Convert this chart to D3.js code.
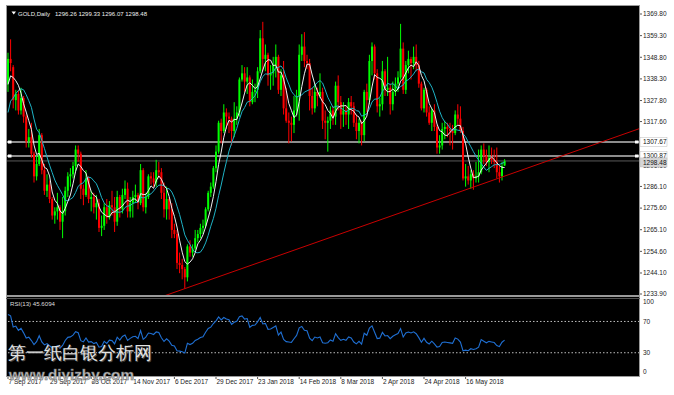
<!DOCTYPE html>
<html>
<head>
<meta charset="utf-8">
<script src="https://cdn.jsdelivr.net/npm/d3@7"></script>
<style>
  body { margin: 0; background: #fff; }
  svg { display: block; }
  text { font-family: "Liberation Sans", Arial, sans-serif; }
</style>
</head>
<body>
<svg id="chart-area"></svg>
<script>
// closes before the first visible bar (Jul-Aug 2017), only used to warm up the MAs and RSI
const priorCloses = [1213, 1219, 1219, 1218, 1228, 1234, 1241, 1241, 1245, 1254, 1255, 1249, 1250, 1260, 1268,
    1269, 1268, 1268, 1268, 1257, 1258, 1262, 1276, 1287, 1289, 1281, 1272, 1284, 1287, 1284,
    1292, 1285, 1289, 1286, 1291, 1313, 1309, 1308, 1321, 1325, 1332, 1339, 1334]

// daily bars, 7 Sep 2017 .. 6 Jun 2018
const opens = [1336, 1348, 1344, 1328, 1331, 1323, 1329, 1320, 1308, 1310, 1302, 1291, 1297, 1311, 1294, 1284, 1287, 1280, 1272, 1274,
    1276, 1269, 1274, 1284, 1291, 1292, 1296, 1304, 1302, 1285, 1282, 1290, 1280, 1281, 1276, 1278, 1266, 1267, 1276, 1271,
    1277, 1276, 1269, 1281, 1275, 1282, 1285, 1274, 1278, 1281, 1282, 1278, 1294, 1276, 1281, 1291, 1290, 1288, 1294, 1293,
    1283, 1275, 1280, 1275, 1265, 1263, 1249, 1248, 1246, 1242, 1257, 1254, 1256, 1261, 1263, 1266, 1267, 1275, 1283, 1286,
    1295, 1303, 1317, 1313, 1322, 1320, 1319, 1313, 1319, 1322, 1338, 1341, 1337, 1339, 1327, 1332, 1333, 1342, 1358, 1348,
    1350, 1340, 1341, 1345, 1349, 1333, 1340, 1324, 1318, 1317, 1316, 1323, 1330, 1350, 1354, 1347, 1346, 1330, 1324, 1332,
    1330, 1332, 1318, 1317, 1318, 1323, 1320, 1335, 1327, 1321, 1323, 1321, 1327, 1325, 1317, 1313, 1317, 1311, 1332, 1328,
    1347, 1354, 1341, 1325, 1326, 1342, 1333, 1334, 1326, 1332, 1336, 1339, 1353, 1333, 1345, 1348, 1346, 1349, 1345, 1336,
    1324, 1333, 1322, 1317, 1323, 1315, 1305, 1306, 1314, 1315, 1314, 1313, 1312, 1321, 1319, 1313, 1290, 1291, 1289, 1292,
    1290, 1291, 1293, 1304, 1301, 1298, 1300, 1299, 1298, 1293, 1291, 1296.26]
const highs = [1351, 1357.5, 1345, 1333, 1333, 1334, 1330, 1321, 1314, 1317, 1303, 1301, 1314, 1312, 1297, 1292, 1289, 1281, 1276, 1283,
    1277, 1281, 1286, 1293, 1295, 1298, 1306, 1306, 1303, 1287, 1294, 1291, 1284, 1283, 1282, 1280, 1272, 1278, 1280, 1279,
    1284, 1281, 1284, 1282, 1285, 1289, 1288, 1281, 1284, 1287, 1283, 1297, 1295, 1283, 1292, 1293, 1293, 1299, 1298, 1295,
    1288, 1286, 1281, 1278, 1268, 1265, 1254, 1251, 1247, 1258, 1260, 1258, 1265, 1265, 1268, 1270, 1276, 1284, 1288, 1296,
    1306, 1318, 1319, 1326, 1324, 1322, 1320, 1327, 1325, 1339, 1345, 1344, 1344, 1340, 1338, 1336, 1344, 1362, 1366, 1355,
    1351, 1345, 1349, 1355, 1350, 1343, 1347, 1334, 1322, 1320, 1330, 1333, 1355, 1360, 1361, 1350, 1348, 1334, 1336, 1334,
    1341, 1334, 1323, 1320, 1325, 1325, 1337, 1340, 1330, 1327, 1325, 1329, 1330, 1327, 1321, 1319, 1318, 1333, 1336, 1350,
    1356, 1355, 1343, 1329, 1347, 1343, 1349, 1336, 1337, 1339, 1342, 1365, 1356, 1347, 1352, 1349, 1354, 1355, 1347, 1337,
    1334, 1334, 1325, 1324, 1326, 1316, 1311, 1317, 1318, 1317, 1317, 1316, 1323, 1326, 1325, 1315, 1297, 1296, 1294, 1294,
    1298, 1304, 1306, 1307, 1304, 1306, 1305, 1304, 1305, 1296, 1298, 1299.33]
const lows = [1332, 1342, 1324, 1323, 1321, 1321, 1317, 1305, 1305, 1300, 1288, 1289, 1296, 1292, 1282, 1281, 1278, 1270, 1268, 1270,
    1265, 1261, 1272, 1281, 1286, 1290, 1293, 1298, 1280, 1277, 1281, 1278, 1274, 1273, 1270, 1264, 1262, 1265, 1268, 1270,
    1272, 1264, 1267, 1271, 1273, 1280, 1271, 1271, 1271, 1278, 1275, 1277, 1274, 1273, 1280, 1287, 1286, 1286, 1290, 1280,
    1271, 1270, 1270, 1261, 1261, 1246, 1244, 1241, 1236.5, 1240, 1252, 1252, 1255, 1259, 1261, 1263, 1266, 1274, 1281, 1285,
    1293, 1302, 1307, 1312, 1314, 1312, 1306, 1310, 1316, 1320, 1337, 1332, 1331, 1325, 1326, 1327, 1329, 1341, 1342, 1342,
    1335, 1333, 1335, 1339, 1331, 1330, 1321, 1317, 1307, 1308, 1312, 1320, 1318, 1347, 1344, 1343, 1323, 1321, 1322, 1325,
    1329, 1314, 1309, 1303, 1314, 1316, 1316, 1323, 1314, 1315, 1316, 1314, 1321, 1315, 1309, 1307, 1306, 1308, 1322, 1326,
    1340, 1338, 1322, 1320, 1323, 1330, 1330, 1321, 1323, 1330, 1332, 1338, 1331, 1331, 1341, 1338, 1343, 1342, 1334, 1323,
    1322, 1320, 1316, 1313, 1313, 1302, 1302, 1304, 1309, 1310, 1306, 1304, 1311, 1316, 1312, 1289, 1286, 1287, 1285, 1284.5,
    1288, 1288, 1292, 1297, 1296, 1293, 1297, 1295, 1290, 1288, 1289, 1296.07]
const closes = [1348, 1346, 1328, 1331, 1323, 1329, 1320, 1308, 1310, 1302, 1291, 1297, 1311, 1294, 1284, 1287, 1280, 1272, 1274, 1276,
    1269, 1274, 1284, 1291, 1292, 1296, 1304, 1302, 1285, 1282, 1290, 1280, 1281, 1276, 1278, 1266, 1267, 1276, 1271, 1277,
    1276, 1269, 1281, 1275, 1282, 1285, 1274, 1278, 1281, 1282, 1278, 1294, 1276, 1281, 1291, 1290, 1288, 1294, 1293, 1283,
    1275, 1280, 1275, 1265, 1263, 1249, 1248, 1246, 1242, 1257, 1254, 1256, 1261, 1263, 1266, 1267, 1275, 1283, 1286, 1295,
    1303, 1317, 1313, 1322, 1320, 1319, 1313, 1319, 1322, 1338, 1341, 1337, 1339, 1327, 1332, 1333, 1342, 1358, 1348, 1350,
    1340, 1341, 1345, 1349, 1333, 1340, 1324, 1318, 1317, 1316, 1323, 1330, 1350, 1354, 1347, 1346, 1330, 1324, 1332, 1330,
    1332, 1318, 1317, 1318, 1323, 1320, 1335, 1327, 1321, 1323, 1321, 1327, 1325, 1317, 1313, 1317, 1311, 1332, 1328, 1347,
    1354, 1341, 1325, 1326, 1342, 1333, 1334, 1326, 1332, 1336, 1339, 1353, 1333, 1345, 1348, 1346, 1349, 1345, 1336, 1324,
    1333, 1322, 1317, 1323, 1315, 1305, 1306, 1314, 1315, 1314, 1313, 1312, 1321, 1319, 1313, 1290, 1291, 1289, 1292, 1290,
    1291, 1293, 1304, 1301, 1298, 1300, 1299, 1298, 1293, 1291, 1296, 1298.48]

// one time label every 16 bars
const dateLabels = ["7 Sep 2017", "29 Sep 2017", "23 Oct 2017", "14 Nov 2017", "6 Dec 2017", "29 Dec 2017",
    "23 Jan 2018", "14 Feb 2018", "8 Mar 2018", "2 Apr 2018", "24 Apr 2018", "16 May 2018"]
const priceTicks = [1369.80, 1359.30, 1348.80, 1338.30, 1327.80, 1317.60, 1296.10, 1286.10, 1275.60, 1265.10, 1254.60, 1244.10, 1233.90]
const rsiTicks = [100, 70, 30, 0]
const rsiLevels = [70, 30]
const hLevels = [1307.67, 1300.87]
const bidPrice = 1298.48
// trend line through the December and May lows: [bar index, price]
const trendPoints = [[68, 1236.5], [179, 1285.8]]
const headerValues = ["1296.26", "1299.33", "1296.07", "1298.48"]
const rsiText = "RSI(13) 45.6094"

function drawChart() {
    const width = 674
    const height = 395
    const left = 6, right = 639, top = 5, mainBottom = 296, rsiTop = 298, rsiBottom = 376

    const svg = d3.select("#chart-area")
        .attr("width", width)
        .attr("height", height)

    svg.append("rect").attr("width", width).attr("height", height).attr("fill", "#fff")
    svg.append("rect")
        .attr("x", left).attr("y", top)
        .attr("width", right - left).attr("height", rsiBottom - top)
        .attr("fill", "#000")

    const defs = svg.append("defs")
    defs.append("clipPath").attr("id", "clip-main").append("rect")
        .attr("x", left + 1).attr("y", top + 1).attr("width", right - left - 1).attr("height", mainBottom - top - 1)
    defs.append("clipPath").attr("id", "clip-rsi").append("rect")
        .attr("x", left + 1).attr("y", rsiTop + 1).attr("width", right - left - 1).attr("height", rsiBottom - rsiTop - 1)

    const n = closes.length
    const x = d3.scaleLinear().domain([0, n - 1]).range([8, 8 + (n - 1) * 2.6])
    const y = d3.scaleLinear().domain([1233.9, 1369.8]).range([294, 14])
    const yRsi = d3.scaleLinear().domain([0, 100]).range([376.2, 298])

    // indicators on the full close history
    const all = priorCloses.concat(closes)
    const off = priorCloses.length
    function sma(p) {
        return all.map((c, j) => j < p - 1 ? null : d3.mean(all.slice(j - p + 1, j + 1)))
    }
    function rsi(p) {
        const out = all.map(() => null)
        let up = 0, dn = 0
        for (let j = 1; j < all.length; j++) {
            const ch = all[j] - all[j - 1]
            const g = Math.max(ch, 0), l = Math.max(-ch, 0)
            if (j <= p) {
                up += g / p; dn += l / p
            } else {
                up = (up * (p - 1) + g) / p
                dn = (dn * (p - 1) + l) / p
            }
            if (j >= p) out[j] = dn === 0 ? 100 : 100 - 100 / (1 + up / dn)
        }
        return out
    }
    const ma5 = sma(5).slice(off)
    const ma10 = sma(10).slice(off)
    const rsi13 = rsi(13).slice(off)

    const bars = d3.range(n).map(i => ({ i, o: opens[i], h: highs[i], l: lows[i], c: closes[i] }))
    const upColor = "#00ff00", downColor = "#ff0000"

    const main = svg.append("g").attr("clip-path", "url(#clip-main)")

    // horizontal levels and bid line
    main.append("line")
        .attr("x1", left).attr("x2", right)
        .attr("y1", y(bidPrice)).attr("y2", y(bidPrice))
        .attr("stroke", "#5a5a5a").attr("stroke-width", 1)
    main.selectAll(".level").data(hLevels).join("line")
        .attr("class", "level")
        .attr("x1", left).attr("x2", right)
        .attr("y1", d => y(d)).attr("y2", d => y(d))
        .attr("stroke", "#bdbdbd").attr("stroke-width", 1.6)
    main.selectAll(".handle").data(hLevels.flatMap(v => [[8, v], [635, v]])).join("rect")
        .attr("class", "handle")
        .attr("x", d => d[0]).attr("y", d => y(d[1]) - 1.5)
        .attr("width", 3.5).attr("height", 3)
        .attr("fill", "#fff")

    // candles
    main.selectAll(".wick").data(bars).join("line")
        .attr("class", "wick")
        .attr("x1", d => x(d.i)).attr("x2", d => x(d.i))
        .attr("y1", d => y(d.h)).attr("y2", d => y(d.l))
        .attr("stroke", d => d.c >= d.o ? upColor : downColor)
        .attr("stroke-width", 1)
    main.selectAll(".body").data(bars).join("rect")
        .attr("class", "body")
        .attr("x", d => x(d.i) - 1)
        .attr("width", 2)
        .attr("y", d => y(Math.max(d.o, d.c)))
        .attr("height", d => Math.max(1, Math.abs(y(d.o) - y(d.c))))
        .attr("fill", d => d.c >= d.o ? upColor : downColor)

    // moving averages
    const maLine = d3.line()
        .defined(d => d != null)
        .x((d, i) => x(i))
        .y(d => y(d))
    main.append("path").datum(ma10)
        .attr("d", maLine).attr("fill", "none")
        .attr("stroke", "#1fb3c6").attr("stroke-width", 1)
    main.append("path").datum(ma5)
        .attr("d", maLine).attr("fill", "none")
        .attr("stroke", "#f0f0f0").attr("stroke-width", 1)

    // trend line, extended both ways and clipped
    const slope = (trendPoints[1][1] - trendPoints[0][1]) / (trendPoints[1][0] - trendPoints[0][0])
    const tAt = i => trendPoints[0][1] + (i - trendPoints[0][0]) * slope
    main.append("line")
        .attr("x1", x(0)).attr("y1", y(tAt(0)))
        .attr("x2", x(260)).attr("y2", y(tAt(260)))
        .attr("stroke", "#c80000").attr("stroke-width", 1)

    // RSI panel
    const rsiG = svg.append("g").attr("clip-path", "url(#clip-rsi)")
    rsiG.selectAll(".rsi-level").data(rsiLevels).join("line")
        .attr("class", "rsi-level")
        .attr("x1", left + 2).attr("x2", right)
        .attr("y1", d => yRsi(d)).attr("y2", d => yRsi(d))
        .attr("stroke", "#bdbdbd").attr("stroke-width", 1)
        .attr("stroke-dasharray", "1.5,2")
    rsiG.append("path").datum(rsi13)
        .attr("d", d3.line().defined(d => d != null).x((d, i) => x(i)).y(d => yRsi(d)))
        .attr("fill", "none")
        .attr("stroke", "#1f6fd2").attr("stroke-width", 1.1)

    // frame
    const frame = "#9a9a9a"
    svg.append("line").attr("x1", left).attr("x2", right).attr("y1", top + 0.5).attr("y2", top + 0.5).attr("stroke", frame)
    svg.append("line").attr("x1", left + 0.5).attr("x2", left + 0.5).attr("y1", top).attr("y2", rsiBottom).attr("stroke", frame)
    svg.append("line").attr("x1", right + 0.5).attr("x2", right + 0.5).attr("y1", top).attr("y2", rsiBottom + 1).attr("stroke", frame)
    svg.append("line").attr("x1", left).attr("x2", right + 1).attr("y1", mainBottom).attr("y2", mainBottom).attr("stroke", frame).attr("stroke-width", 2)
    svg.append("line").attr("x1", left).attr("x2", right + 1).attr("y1", rsiTop + 0.5).attr("y2", rsiTop + 0.5).attr("stroke", "#505050")
    svg.append("line").attr("x1", left).attr("x2", right + 1).attr("y1", rsiBottom + 0.5).attr("y2", rsiBottom + 0.5).attr("stroke", frame)

    // price axis
    const fs = 6.5
    const axis = svg.append("g")
    axis.selectAll(".ptick").data(priceTicks).join("line")
        .attr("x1", right + 1).attr("x2", right + 3)
        .attr("y1", d => y(d)).attr("y2", d => y(d))
        .attr("stroke", "#555")
    axis.selectAll(".plabel").data(priceTicks).join("text")
        .attr("x", right + 4).attr("y", d => y(d) + 2.3)
        .attr("font-size", fs).attr("fill", "#222")
        .text(d => d.toFixed(2))

    // level labels
    const boxes = [...hLevels.map(v => ({ v, bg: "#fff" })), { v: bidPrice, bg: "#d6d6d6" }]
    const box = axis.selectAll(".box").data(boxes).join("g")
        .attr("transform", d => `translate(${right + 1},${y(d.v) + (d.v === bidPrice ? 1.5 : 0)})`)
    box.append("rect")
        .attr("x", 0).attr("y", -4.5).attr("width", 27).attr("height", 9)
        .attr("fill", d => d.bg).attr("stroke", "#bbb").attr("stroke-width", 0.5)
    box.append("text")
        .attr("x", 3).attr("y", 2.3)
        .attr("font-size", fs).attr("fill", "#111")
        .text(d => d.v.toFixed(2))

    // RSI axis
    axis.selectAll(".rlabel").data(rsiTicks).join("text")
        .attr("x", right + 4)
        .attr("y", d => d === 100 ? yRsi(d) + 6 : d === 0 ? yRsi(d) - 2 : yRsi(d) + 2.3)
        .attr("font-size", fs).attr("fill", "#222")
        .text(d => d)

    // time axis, one label every 16 bars
    axis.selectAll(".dtick").data(dateLabels).join("line")
        .attr("x1", (d, k) => x(k * 16)).attr("x2", (d, k) => x(k * 16))
        .attr("y1", rsiBottom + 1).attr("y2", rsiBottom + 3)
        .attr("stroke", "#555")
    axis.selectAll(".dlabel").data(dateLabels).join("text")
        .attr("x", (d, k) => x(k * 16) + 0.5).attr("y", 384)
        .attr("font-size", fs).attr("fill", "#222")
        .text(d => d)

    // header and RSI caption
    svg.append("path").attr("d", "M11.5,11.5 L16,11.5 L13.75,14.5 Z").attr("fill", "#fff")
    svg.append("text").attr("x", 18).attr("y", 15.6)
        .attr("font-size", 6).attr("fill", "#eee")
        .attr("textLength", 32).attr("lengthAdjust", "spacingAndGlyphs")
        .text("GOLD,Daily")
    svg.append("text").attr("x", 55).attr("y", 15.6)
        .attr("font-size", 6).attr("fill", "#eee")
        .attr("textLength", 92).attr("lengthAdjust", "spacingAndGlyphs")
        .text(headerValues.join(" "))
    svg.append("text").attr("x", 10).attr("y", 305.6)
        .attr("font-size", 6).attr("fill", "#ddd")
        .attr("textLength", 45).attr("lengthAdjust", "spacingAndGlyphs")
        .text(rsiText)

    // watermark
    const wm = svg.append("g")
    wm.append("text").attr("x", 9).attr("y", 360)
        .attr("font-family", "'Noto Sans CJK SC', sans-serif").attr("font-size", 17.8)
        .attr("fill", "#444").text("第一纸白银分析网")
    wm.append("text").attr("x", 8).attr("y", 359)
        .attr("font-family", "'Noto Sans CJK SC', sans-serif").attr("font-size", 17.8)
        .attr("fill", "#e2e2e2").text("第一纸白银分析网")
    wm.append("text").attr("x", 9).attr("y", 380)
        .attr("font-family", "'Liberation Mono', monospace").attr("font-weight", "bold").attr("font-size", 15.2)
        .attr("fill", "#bdbdbd").attr("stroke", "#6a6a6a").attr("stroke-width", 0.5)
        .text("www.diyizby.com")
}

drawChart()
</script>
</body>
</html>
